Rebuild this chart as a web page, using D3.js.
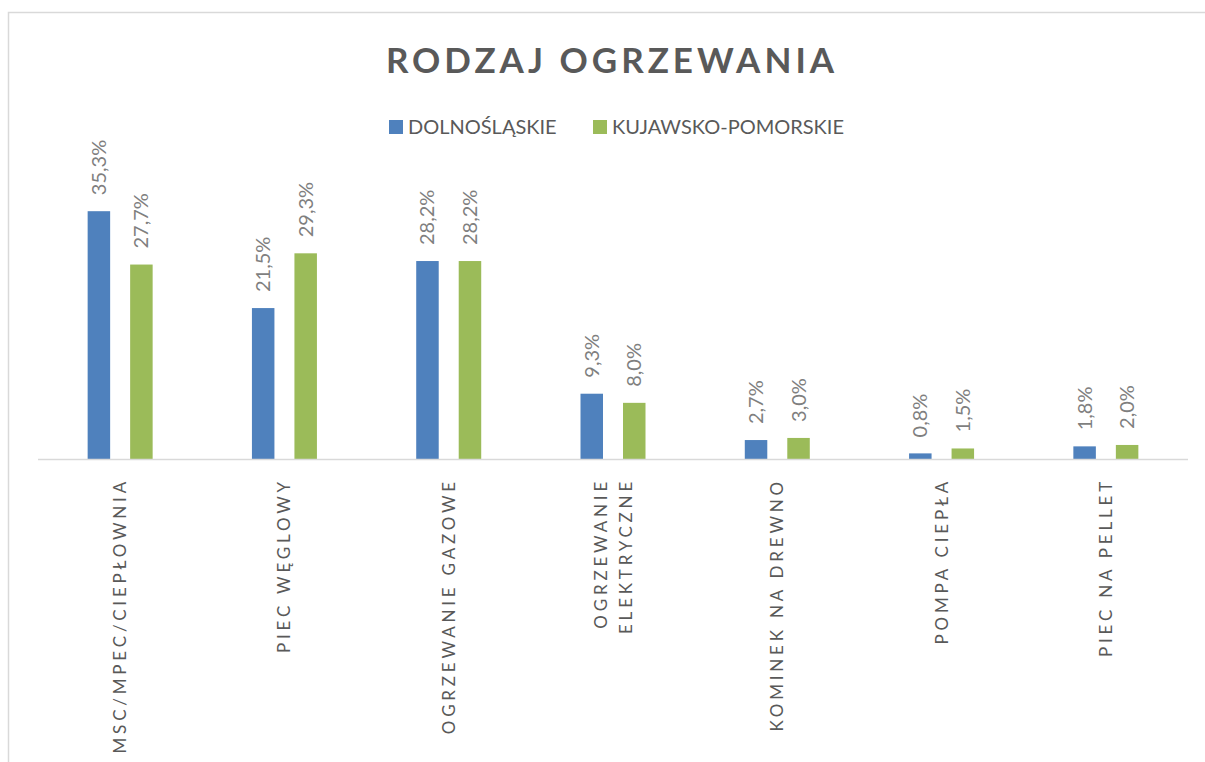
<!DOCTYPE html>
<html>
<head>
<meta charset="utf-8">
<script src="https://cdn.jsdelivr.net/npm/d3@7"></script>
<style>
  body { margin: 0; background: #fff; }
  svg { display: block; font-family: Lato, "Open Sans", sans-serif; }
</style>
</head>
<body>
<svg></svg>
<script>
var categories = [
  ["MSC/MPEC/CIEPŁOWNIA"],
  ["PIEC WĘGLOWY"],
  ["OGRZEWANIE GAZOWE"],
  ["OGRZEWANIE", "ELEKTRYCZNE"],
  ["KOMINEK NA DREWNO"],
  ["POMPA CIEPŁA"],
  ["PIEC NA PELLET"]
];
var seriesNames = ["DOLNOŚLĄSKIE", "KUJAWSKO-POMORSKIE"];
var dolnoslaskie = [35.3, 21.5, 28.2, 9.3, 2.7, 0.8, 1.8];
var kujawsko = [27.7, 29.3, 28.2, 8.0, 3.0, 1.5, 2.0];
var colors = ["#4f81bd", "#9bbb59"];

var width = 1205, height = 762;
var svg = d3.select("svg").attr("width", width).attr("height", height);

// chart frame
svg.append("rect")
  .attr("x", 8.5).attr("y", 12.5)
  .attr("width", 1220).attr("height", 800)
  .attr("fill", "none").attr("stroke", "#d9d9d9").attr("stroke-width", 1.5);

var plotLeft = 38, plotRight = 1188, baseY = 459;

var x = d3.scaleBand()
  .domain(d3.range(categories.length))
  .range([plotLeft, plotRight]);

var y = d3.scaleLinear()
  .domain([0, 40])
  .range([baseY, baseY - 280.8]);

var barW = 22.5, gap = 20;
var xInner = d3.scaleOrdinal()
  .domain([0, 1])
  .range([-(barW + gap / 2), gap / 2]);

var rows = categories.map(function(c, i) {
  return [dolnoslaskie[i], kujawsko[i]];
});

var groups = svg.selectAll("g.cat")
  .data(rows)
  .enter().append("g")
  .attr("class", "cat")
  .attr("transform", function(d, i) {
    return "translate(" + (x(i) + x.bandwidth() / 2) + ",0)";
  });

groups.selectAll("rect")
  .data(function(d) { return d; })
  .enter().append("rect")
  .attr("x", function(d, j) { return xInner(j); })
  .attr("y", function(d) { return y(d); })
  .attr("width", barW)
  .attr("height", function(d) { return baseY - y(d); })
  .attr("fill", function(d, j) { return colors[j]; });

// value labels
groups.selectAll("text.val")
  .data(function(d) { return d; })
  .enter().append("text")
  .attr("class", "val")
  .attr("transform", function(d, j) {
    return "translate(" + (xInner(j) + barW / 2 + 7) + "," + (y(d) - 16) + ") rotate(-90)";
  })
  .attr("font-size", "20px")
  .attr("fill", "#7f7f7f")
  .text(function(d) { return d.toFixed(1).replace(".", ",") + "%"; });

// axis line
svg.append("line")
  .attr("x1", plotLeft).attr("x2", plotRight)
  .attr("y1", baseY + 0.5).attr("y2", baseY + 0.5)
  .attr("stroke", "#d9d9d9").attr("stroke-width", 1.5);

// category labels
var catLabels = svg.selectAll("g.catlab")
  .data(categories)
  .enter().append("g")
  .attr("class", "catlab")
  .attr("transform", function(d, i) {
    return "translate(" + (x(i) + x.bandwidth() / 2) + ",478) rotate(-90)";
  });

catLabels.selectAll("text")
  .data(function(d) { return d; })
  .enter().append("text")
  .attr("text-anchor", "end")
  .attr("x", 0)
  .attr("y", function(d, k, nodes) {
    var n = nodes.length;
    return 6 + (k - (n - 1) / 2) * 25;
  })
  .attr("font-size", "17px")
  .attr("letter-spacing", "3.8px")
  .attr("fill", "#595959")
  .text(function(d) { return d; });

// title
svg.append("text")
  .attr("x", 612).attr("y", 73)
  .attr("text-anchor", "middle")
  .attr("font-size", "35px")
  .attr("font-weight", "bold")
  .attr("letter-spacing", "4px")
  .attr("fill", "#595959")
  .text("RODZAJ OGRZEWANIA");

// legend
var legendX = [389, 593];
var legend = svg.selectAll("g.leg")
  .data(seriesNames)
  .enter().append("g")
  .attr("class", "leg")
  .attr("transform", function(d, i) { return "translate(" + legendX[i] + ",120)"; });

legend.append("rect")
  .attr("width", 14).attr("height", 14)
  .attr("fill", function(d, i) { return colors[i]; });

legend.append("text")
  .attr("x", 19).attr("y", 14)
  .attr("font-size", "20px")
  .attr("fill", "#595959")
  .text(function(d) { return d; });
</script>
</body>
</html>
